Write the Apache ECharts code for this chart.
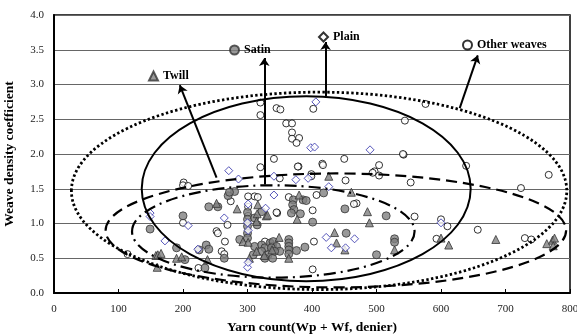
<!DOCTYPE html>
<html>
<head>
<meta charset="utf-8">
<script src="https://cdn.jsdelivr.net/npm/echarts@6/dist/echarts.min.js"></script>
<style>
html, body { margin: 0; padding: 0; background: #fff; }
#chart { width: 577px; height: 336px; }
</style>
</head>
<body>
<div id="chart"></div>
<script>
// [yarn count, weave density coefficient]
const otherWeaves = [
  [320,2.74],[320,2.56],[345,2.66],[351,2.64],[402,2.65],[360,2.44],[369,2.44],[369,2.31],
  [369,2.22],[380,2.23],[376,2.16],[341,1.93],[320,1.81],[379,1.82],[416,1.86],[450,1.93],
  [504,1.84],[497,1.75],[504,1.69],[542,1.99],[541,2.0],[544,2.48],[576,2.72],[399,1.71],
  [399,1.68],[350,1.65],[452,1.62],[553,1.59],[201,1.59],[200,1.55],[639,1.83],[767,1.70],
  [724,1.51],[600,1.06],[610,0.96],[657,0.91],[730,0.79],[740,0.77],[593,0.78],[559,1.10],
  [469,1.29],[465,1.28],[346,1.15],[364,1.38],[407,1.41],[401,1.19],[403,0.74],[401,0.34],
  [208,1.54],[274,1.32],[301,1.39],[301,1.24],[301,1.11],[311,1.39],[316,1.38],[269,0.98],
  [252,0.89],[254,0.86],[265,0.74],[260,0.60],[264,0.56],[200,1.01],[114,0.56],[224,0.36],
  [327,0.74],[494,1.73],[378,1.82],[417,1.84],[345,1.16]
];
const satin = [
  [149,0.92],[200,1.11],[190,0.65],[203,0.48],[240,1.24],[254,1.24],[270,1.40],[280,1.46],
  [272,1.45],[300,1.16],[300,1.06],[300,0.96],[300,0.86],[300,0.79],[311,1.08],[322,1.17],
  [315,0.98],[236,0.69],[240,0.63],[264,0.50],[234,0.36],[288,0.77],[311,0.67],[322,0.69],
  [327,0.65],[335,0.72],[339,0.67],[322,0.60],[309,0.55],[332,0.55],[327,0.50],[339,0.50],
  [340,0.74],[345,0.67],[350,0.60],[337,0.65],[342,0.60],[364,0.77],[364,0.72],[364,0.67],
  [364,0.62],[364,0.56],[371,1.34],[370,1.27],[372,1.20],[368,1.15],[386,1.34],[391,1.33],
  [418,1.44],[382,1.14],[401,1.02],[389,0.66],[376,0.61],[451,1.21],[453,0.86],[515,1.11],
  [528,0.78],[528,0.73],[500,0.55],[225,0.62]
];
const twill = [
  [158,0.54],[161,0.55],[166,0.57],[160,0.37],[190,0.50],[198,0.52],[238,0.48],[252,1.29],
  [284,1.21],[316,1.27],[315,1.14],[329,1.11],[314,1.03],[293,0.74],[301,0.73],[303,0.50],
  [314,0.60],[326,0.54],[338,0.62],[349,0.80],[364,0.50],[380,1.41],[377,1.06],[331,1.12],
  [426,1.68],[461,1.45],[435,0.87],[438,0.72],[451,0.62],[486,1.17],[489,1.01],[528,0.62],
  [600,0.79],[612,0.69],[685,0.77],[764,0.71],[773,0.76],[776,0.79],[774,0.68]
];
const plain = [
  [406,2.75],[398,2.09],[404,2.10],[490,2.06],[271,1.76],[286,1.64],[341,1.68],[375,1.63],
  [394,1.65],[149,1.15],[149,1.10],[208,0.97],[172,0.75],[223,0.63],[264,1.08],[301,1.28],
  [300,1.01],[301,0.90],[300,0.37],[301,0.44],[341,1.41],[426,1.53],[422,0.80],[430,0.65],
  [466,0.78],[452,0.65],[328,1.22],[600,1.01]
];

// ellipses: [centre x, centre y, radius x, radius y, line width, dash]
const ellipses = [
  [411, 1.47, 384, 1.42, 2.8, [2.4, 2.4]],    // other weaves, dotted
  [391, 1.50, 255, 1.33, 2, null],            // plain, solid
  [437, 0.90, 357, 0.82, 2.2, [11, 6]],       // twill, dashed
  [340, 0.885, 219, 0.665, 2.2, [12, 5, 2, 5]] // satin, dash-dot
];
// arrows: [x from, y from, x to, y to]
const arrows = [
  [252, 1.66, 195, 2.99],
  [326, 1.56, 326, 3.38],
  [421, 2.83, 421, 3.61],
  [629, 2.66, 657, 3.42]
];

const font = "'Liberation Serif', 'Times New Roman', serif";
const chart = echarts.init(document.getElementById('chart'));

function labelLegend(name, left, top, extra) {
  return {
    data: [Object.assign({ name: name }, extra || {})],
    left: left, top: top, padding: 0,
    itemWidth: 9, itemHeight: 9, itemGap: 4,
    selectedMode: false,
    textStyle: { fontFamily: font, fontWeight: 'bold', fontSize: 12, color: '#000', padding: [0, 0, 2, 0] }
  };
}

chart.setOption({
  animation: false,
  grid: {
    left: 54, right: 7, top: 15, bottom: 43, containLabel: false, outerBoundsMode: 'none',
    show: true, borderColor: '#000', borderWidth: 1.5
  },
  legend: [
    labelLegend('Twill', 148, 70),
    labelLegend('Satin', 229, 44),
    labelLegend('Plain', 318, 31, { itemStyle: { borderColor: '#000' } }),
    labelLegend('Other weaves', 462, 39)
  ],
  xAxis: {
    type: 'value', min: 0, max: 800, interval: 100,
    name: 'Yarn count(Wp + Wf, denier)', nameLocation: 'middle', nameGap: 28,
    nameTextStyle: { fontFamily: font, fontWeight: 'bold', fontSize: 13.5, color: '#000' },
    axisLine: { lineStyle: { color: '#000', width: 2 } },
    axisTick: { inside: true, length: 4, lineStyle: { color: '#000' } },
    axisLabel: { fontFamily: font, fontSize: 11, color: '#222', margin: 11 },
    splitLine: { show: false }
  },
  yAxis: {
    type: 'value', min: 0, max: 4, interval: 0.5,
    name: 'Weave density coefficient', nameLocation: 'middle', nameGap: 37,
    nameTextStyle: { fontFamily: font, fontWeight: 'bold', fontSize: 13.5, color: '#000' },
    axisLine: { lineStyle: { color: '#000', width: 2 } },
    axisTick: { show: false },
    axisLabel: { fontFamily: font, fontSize: 11, color: '#222', margin: 10, formatter: v => v.toFixed(1) },
    splitLine: { lineStyle: { color: '#666', width: 1 } }
  },
  series: [
    {
      name: 'Other weaves', type: 'scatter', data: otherWeaves, symbol: 'circle', symbolSize: 7,
      itemStyle: { color: '#fff', borderColor: '#000', borderWidth: 1 }
    },
    {
      name: 'Satin', type: 'scatter', data: satin, symbol: 'circle', symbolSize: 8,
      itemStyle: { color: '#808080', borderColor: '#333', borderWidth: 1 }
    },
    {
      name: 'Twill', type: 'scatter', data: twill, symbol: 'triangle', symbolSize: 8,
      itemStyle: { color: '#808080', borderColor: '#333', borderWidth: 1 }
    },
    {
      name: 'Plain', type: 'scatter', data: plain, symbol: 'diamond', symbolSize: 8,
      itemStyle: { color: '#fff', borderColor: '#2a2aa8', borderWidth: 1 }
    },
    {
      type: 'custom', silent: true, z: 4,
      data: ellipses.map((e, i) => [e[0], e[1], e[2], e[3], i]),
      encode: { x: 0, y: 1 },
      renderItem: function (params, api) {
        const e = ellipses[api.value(4)];
        const c = api.coord([e[0], e[1]]);
        const rx = api.size([e[2], 0])[0];
        const ry = api.size([0, e[3]])[1];
        return {
          type: 'ellipse',
          shape: { cx: c[0], cy: c[1], rx: rx, ry: ry },
          style: { fill: 'none', stroke: '#000', lineWidth: e[4], lineDash: e[5] }
        };
      }
    },
    {
      type: 'lines', coordinateSystem: 'cartesian2d', silent: true, z: 5,
      symbol: ['none', 'arrow'], symbolSize: 8,
      lineStyle: { color: '#000', width: 2, opacity: 1 },
      data: arrows.map(a => ({ coords: [[a[0], a[1]], [a[2], a[3]]] }))
    }
  ]
});
</script>
</body>
</html>
